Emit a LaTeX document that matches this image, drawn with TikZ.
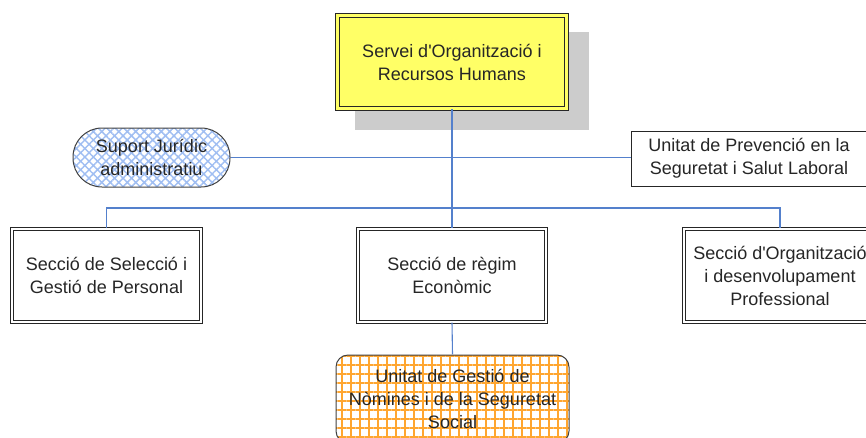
\documentclass[tikz,border=0pt]{standalone}
\usepackage{fontspec}
\setmainfont{Liberation Sans}
\usetikzlibrary{patterns.meta}
\definecolor{connblue}{RGB}{84,128,204}
\definecolor{boxyellow}{RGB}{255,255,102}
\definecolor{shadowgrey}{RGB}{204,204,204}
\definecolor{hatchblue}{RGB}{160,190,242}
\definecolor{gridorange}{RGB}{255,166,48}

\begin{document}
\begin{tikzpicture}[x=1pt,y=1pt,yscale=-1,xscale=1,
  boxfont/.style={font=\fontsize{18}{23}\selectfont, align=center, inner sep=0pt, text=black!85},
  topbox/.style={boxfont, draw=black!85, line width=1.1pt, double=boxyellow, double distance=2.4pt, fill=boxyellow, minimum width=229pt, minimum height=93pt},
  orgbox/.style={boxfont, draw=black!85, line width=1.1pt, double=white, double distance=1.5pt, fill=white, minimum height=93pt},
  plainbox/.style={boxfont, draw=black!85, line width=1pt, fill=white, minimum width=236pt, minimum height=55pt},
  pillbox/.style={boxfont, draw=black!75, line width=1pt, rounded corners=29pt, minimum width=157pt, minimum height=59pt,
    pattern={Hatch[angle=45,distance=6pt,line width=1.5pt]}, pattern color=hatchblue},
  gridbox/.style={boxfont, draw=black!75, line width=1pt, rounded corners=12pt, minimum width=233pt, minimum height=88pt,
    pattern={Hatch[angle=0,distance=9pt,line width=1.3pt]}, pattern color=gridorange},
  conn/.style={draw=connblue, line width=1.1pt}
]
\useasboundingbox (0,0) rectangle (866,437);

%Shape: Shadow
\fill[shadowgrey] (355,32) rectangle (589,130);
%Shape: Rectangle
\node[topbox] (servei) at (452,62) {Servei d\textquotesingle Organització i\\Recursos Humans};
%Shape: Rounded Rectangle
\node[pillbox] (suport) at (151.5,157.5) {Suport Jurídic\\administratiu};
%Shape: Rectangle
\node[plainbox] (prevencio) at (749,158.5) {Unitat de Prevenció en la\\Seguretat i Salut Laboral};
%Shape: Rectangle
\node[orgbox, minimum width=189pt] (seleccio) at (106.5,275.5) {Secció de Selecció i\\Gestió de Personal};
%Shape: Rectangle
\node[orgbox, minimum width=188pt] (regim) at (452,275.5) {Secció de règim\\Econòmic};
%Shape: Rectangle
\node[orgbox, minimum width=192pt] (organitzacio) at (780,275.5) {Secció d\textquotesingle Organització\\i desenvolupament\\Professional};
%Shape: Rounded Rectangle
\node[gridbox] (nomines) at (452.5,399) {Unitat de Gestió de\\Nòmines i de la Seguretat\\Social};

%Straight Lines
\coordinate (bus) at (452,208);
\draw[conn] (servei.south) -- (regim.north);
\draw[conn] (suport.east) -- (prevencio.west |- suport.east);
\draw[conn] (seleccio.north) |- (bus) -| (organitzacio.north);
\draw[conn] (regim.south) -- (nomines.north);

\end{tikzpicture}
\end{document}
